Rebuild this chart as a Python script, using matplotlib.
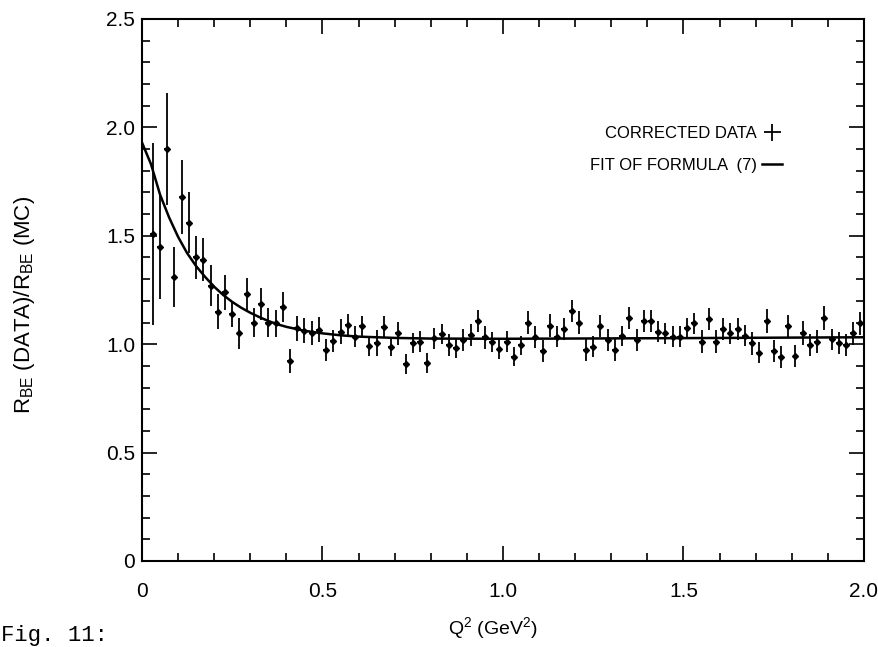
import matplotlib
matplotlib.use("Agg")
import matplotlib.pyplot as plt
from matplotlib.ticker import MultipleLocator, FixedLocator, FixedFormatter
from matplotlib.lines import Line2D

plt.rcParams['font.family'] = ['Liberation Sans', 'DejaVu Sans']
plt.rcParams['mathtext.default'] = 'regular'

# bin centres in Q^2 (GeV^2)
q2 = [0.03, 0.05, 0.07, 0.09, 0.11, 0.13, 0.15, 0.17, 0.19, 0.21,
      0.23, 0.25, 0.27, 0.29, 0.31, 0.33, 0.35, 0.37, 0.39, 0.41,
      0.43, 0.45, 0.47, 0.49, 0.51, 0.53, 0.55, 0.57, 0.59, 0.61,
      0.63, 0.65, 0.67, 0.69, 0.71, 0.73, 0.75, 0.77, 0.79, 0.81,
      0.83, 0.85, 0.87, 0.89, 0.91, 0.93, 0.95, 0.97, 0.99, 1.01,
      1.03, 1.05, 1.07, 1.09, 1.11, 1.13, 1.15, 1.17, 1.19, 1.21,
      1.23, 1.25, 1.27, 1.29, 1.31, 1.33, 1.35, 1.37, 1.39, 1.41,
      1.43, 1.45, 1.47, 1.49, 1.51, 1.53, 1.55, 1.57, 1.59, 1.61,
      1.63, 1.65, 1.67, 1.69, 1.71, 1.73, 1.75, 1.77, 1.79, 1.81,
      1.83, 1.85, 1.87, 1.89, 1.91, 1.93, 1.95, 1.97, 1.99]

ratio = [1.51, 1.45, 1.90, 1.31, 1.68, 1.56, 1.40, 1.39, 1.27, 1.15,
         1.24, 1.14, 1.05, 1.23, 1.10, 1.185, 1.10, 1.096, 1.173, 0.922,
         1.073, 1.062, 1.05, 1.066, 0.973, 1.015, 1.058, 1.09, 1.035, 1.084,
         0.992, 1.007, 1.078, 0.989, 1.05, 0.909, 1.004, 1.012, 0.915, 1.027,
         1.047, 0.996, 0.981, 1.019, 1.042, 1.107, 1.031, 1.012, 0.978, 1.012,
         0.942, 0.996, 1.10, 1.032, 0.969, 1.085, 1.035, 1.069, 1.153, 1.10,
         0.973, 0.989, 1.084, 1.019, 0.973, 1.038, 1.122, 1.019, 1.108, 1.108,
         1.058, 1.05, 1.035, 1.035, 1.073, 1.096, 1.012, 1.116, 1.012, 1.07,
         1.05, 1.07, 1.04, 1.004, 0.961, 1.107, 0.969, 0.942, 1.084, 0.946,
         1.05, 0.996, 1.012, 1.119, 1.022, 1.004, 0.996, 1.05, 1.096]

ratio_err = [0.42, 0.24, 0.26, 0.14, 0.17, 0.14, 0.10, 0.10, 0.095, 0.08,
             0.08, 0.06, 0.07, 0.077, 0.065, 0.075, 0.068, 0.062, 0.07, 0.055,
             0.058, 0.058, 0.055, 0.058, 0.05, 0.05, 0.057, 0.05, 0.05, 0.048,
             0.048, 0.06, 0.05, 0.045, 0.054, 0.045, 0.046, 0.05, 0.046, 0.05,
             0.048, 0.05, 0.046, 0.05, 0.052, 0.052, 0.052, 0.046, 0.046, 0.05,
             0.044, 0.044, 0.055, 0.05, 0.05, 0.052, 0.05, 0.05, 0.05, 0.055,
             0.05, 0.05, 0.05, 0.05, 0.052, 0.048, 0.05, 0.05, 0.05, 0.05,
             0.05, 0.05, 0.05, 0.05, 0.048, 0.05, 0.052, 0.052, 0.052, 0.05,
             0.05, 0.05, 0.05, 0.052, 0.05, 0.055, 0.052, 0.05, 0.05, 0.05,
             0.055, 0.052, 0.052, 0.055, 0.05, 0.05, 0.052, 0.052, 0.052]

# fit curve
fit_q2 = [0.0, 0.025, 0.05, 0.075, 0.1, 0.125, 0.15, 0.175, 0.2, 0.225,
          0.25, 0.275, 0.3, 0.325, 0.35, 0.375, 0.4, 0.45, 0.5, 0.55,
          0.6, 0.7, 0.8, 1.0, 1.5, 2.0]
fit_val = [1.93, 1.83, 1.69, 1.585, 1.495, 1.42, 1.36, 1.31, 1.265, 1.227,
           1.195, 1.168, 1.145, 1.125, 1.107, 1.092, 1.08, 1.062, 1.05, 1.041,
           1.035, 1.029, 1.026, 1.025, 1.028, 1.032]

fig = plt.figure(figsize=(8.79, 6.47), dpi=100)
ax = fig.add_axes([142 / 879, 1 - 561 / 647, 722 / 879, 542 / 647])

ax.errorbar(q2, ratio, yerr=ratio_err, xerr=0.008, fmt='D', ms=3,
            color='black', elinewidth=1.3, capsize=0)
ax.plot(fit_q2, fit_val, color='black', lw=1.8)

ax.set_xlim(0, 2.0)
ax.set_ylim(0, 2.5)

ax.xaxis.set_major_locator(FixedLocator([0, 0.5, 1.0, 1.5, 2.0]))
ax.xaxis.set_major_formatter(FixedFormatter(['0', '0.5', '1.0', '1.5', '2.0']))
ax.xaxis.set_minor_locator(MultipleLocator(0.1))
ax.yaxis.set_major_locator(FixedLocator([0, 0.5, 1.0, 1.5, 2.0, 2.5]))
ax.yaxis.set_major_formatter(FixedFormatter(['0', '0.5', '1.0', '1.5', '2.0', '2.5']))
ax.yaxis.set_minor_locator(MultipleLocator(0.1))

ax.tick_params(which='both', direction='in', top=True, right=True,
               width=1.2, labelsize=15)
ax.tick_params(which='major', length=11)
ax.tick_params(which='minor', length=6)
ax.tick_params(axis='x', which='major', pad=15)
ax.tick_params(axis='y', which='major', pad=5)
for sp in ax.spines.values():
    sp.set_linewidth(1.5)

fig.text(25 / 879, 1 - 305 / 647, r'R$_{BE}$ (DATA)/R$_{BE}$ (MC)',
         rotation=90, ha='center', va='center', fontsize=16)
fig.text(493 / 879, 1 - 628 / 647, r'Q$^2$ (GeV$^2$)',
         ha='center', va='center', fontsize=14)
fig.text(1 / 879, 1 - 636 / 647, 'Fig. 11:', ha='left', va='center',
         fontsize=16, family=['Liberation Mono', 'DejaVu Sans Mono'])

data_handle = ax.errorbar([], [], yerr=[], xerr=[], fmt='none',
                          color='black', elinewidth=1.3)
fit_handle = Line2D([], [], color='black', lw=1.8)
leg = ax.legend([data_handle, fit_handle],
                ['CORRECTED DATA', 'FIT OF FORMULA  (7)'],
                loc='upper left', bbox_to_anchor=(0.6, 0.83),
                markerfirst=False, frameon=False,
                prop={'family': ['Liberation Sans Narrow', 'Liberation Sans'],
                      'size': 12},
                handlelength=1.2, handletextpad=0.3, labelspacing=1.0)

fig.savefig('out.png', dpi=100)
